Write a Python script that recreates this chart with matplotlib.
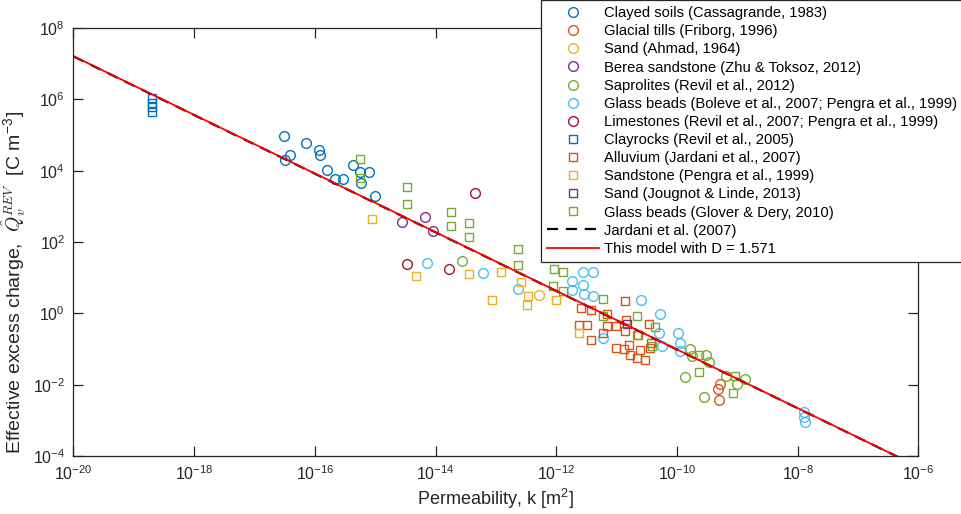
import matplotlib
matplotlib.use("Agg")
import matplotlib.pyplot as plt
import numpy as np

plt.rcParams['font.family'] = ['Liberation Sans', 'DejaVu Sans']
plt.rcParams['mathtext.fontset'] = 'cm'

# ---------------- data (permeability k [m^2], charge Q [C m^-3]) ----------------
clayed_k = [3.1e-17, 7.2e-17, 3.9e-17, 3.2e-17, 1.15e-16, 1.2e-16, 1.6e-16, 2.15e-16,
            2.95e-16, 4.35e-16, 5.5e-16, 8.0e-16, 5.8e-16, 1.0e-15]
clayed_q = [9.5e4, 6.1e4, 2.75e4, 2.0e4, 3.8e4, 2.7e4, 1.05e4, 6.0e3,
            6.0e3, 1.45e4, 9.3e3, 9.0e3, 4.4e3, 1.95e3]

tills_k = [5.1e-10, 4.7e-10, 4.9e-10]
tills_q = [0.0105, 0.0078, 0.0038]

ahmad_k = [5.25e-13]
ahmad_q = [3.3]

berea_k = [2.8e-15, 6.6e-15, 9.0e-15]
berea_q = [370, 490, 210]

sapro_k = [2.75e-14, 1.66e-10, 1.77e-10, 3.0e-10, 3.4e-10, 1.36e-10, 2.8e-10, 6.5e-10, 9.8e-10, 1.32e-9]
sapro_q = [29, 0.097, 0.062, 0.068, 0.042, 0.016, 0.0045, 0.017, 0.0105, 0.014]

boleve_k = [7.3e-15, 6.0e-14, 2.35e-13, 1.8e-12, 2.75e-12, 4.0e-12, 2.75e-12, 1.8e-12,
            2.9e-12, 4.0e-12, 6.0e-12, 2.5e-11, 5.2e-11, 5.1e-11, 5.6e-11, 1.06e-10,
            1.12e-10, 1.12e-10, 1.28e-8, 1.28e-8, 1.3e-8]
boleve_q = [26, 13.8, 4.7, 7.9, 14, 14, 6.4, 4.5,
            3.5, 3.1, 0.21, 2.3, 0.95, 0.29, 0.12, 0.29,
            0.145, 0.089, 0.0017, 0.00126, 0.0009]

lime_k = [4.5e-14, 3.3e-15, 1.7e-14]
lime_q = [2300, 24, 18]

clayrock_k = [2.0e-19, 2.0e-19, 2.0e-19, 2.0e-19]
clayrock_q = [1.07e6, 8.1e5, 6.2e5, 4.5e5]

alluv_k = [1.38e-11, 2.6e-12, 3.8e-12, 6.9e-12, 2.4e-12, 3.2e-12, 6.9e-12, 9.8e-12,
           1.43e-11, 1.38e-11, 3.4e-11, 5.9e-12, 3.8e-12, 9.8e-12, 1.35e-11, 1.63e-11,
           2.4e-11, 1.67e-11, 2.15e-11, 2.9e-11, 3.55e-11, 3.7e-11, 2.3e-11]
alluv_q = [2.25, 1.39, 1.24, 0.96, 0.47, 0.47, 0.43, 0.44,
           0.66, 0.32, 0.50, 0.29, 0.18, 0.107, 0.10, 0.13,
           0.091, 0.068, 0.056, 0.049, 0.107, 0.15, 0.25]

sandstone_k = [8.7e-16, 4.8e-15, 3.6e-14, 1.2e-13, 2.6e-13, 8.5e-14, 3.45e-13, 3.3e-13, 9.8e-13, 2.4e-12]
sandstone_q = [430, 11, 12.7, 14, 7.8, 2.4, 3.1, 1.75, 2.4, 0.28]

jougnot_k = [1.48e-11]
jougnot_q = [0.50]

glover_k = [5.7e-16, 5.7e-16, 3.4e-15, 3.4e-15, 1.8e-14, 1.8e-14, 3.6e-14, 3.6e-14,
            2.35e-13, 2.35e-13, 9.2e-13, 1.3e-12, 8.9e-13, 1.3e-12, 6.0e-12, 6.0e-12,
            2.15e-11, 4.25e-11, 2.2e-11, 3.9e-11, 2.3e-10, 2.3e-10, 9.2e-10, 8.6e-10]
glover_q = [2.1e4, 6.2e3, 3.4e3, 1.2e3, 690, 290, 350, 140,
            62, 23, 18, 14, 5.9, 4.3, 2.6, 0.83,
            0.84, 0.41, 0.24, 0.12, 0.022, 0.068, 0.0175, 0.0057]

# model lines (end points)
jardani_k = [1e-20, 1e-6]
jardani_q = [1.596e7, 4.97e-5]
model_k = [1e-20, 1e-6]
model_q = [1.62e7, 5.0e-5]

x_ticks = [1e-20, 1e-18, 1e-16, 1e-14, 1e-12, 1e-10, 1e-8, 1e-6]
y_ticks = [1e-4, 1e-2, 1e0, 1e2, 1e4, 1e6, 1e8]

# ---------------- styling ----------------
C_BLUE = '#0072BD'
C_ORANGE = '#D95319'
C_YELLOW = '#EDB120'
C_PURPLE = '#7E2F8E'
C_GREEN = '#77AC30'
C_CYAN = '#4DBEEE'
C_RED = '#A2142F'

fig = plt.figure(figsize=(9.62, 5.14), dpi=100)
ax = fig.add_axes([0.0764, 0.1128, 0.9546 - 0.0764, 0.9455 - 0.1128])

circ = dict(marker='o', linestyle='none', markersize=7.0, markerfacecolor='none', markeredgewidth=1.0)
sq = dict(marker='s', linestyle='none', markersize=6.0, markerfacecolor='none', markeredgewidth=1.0)

series = [
    (clayed_k, clayed_q, circ, C_BLUE, 'Clayed soils (Cassagrande, 1983)'),
    (tills_k, tills_q, circ, C_ORANGE, 'Glacial tills (Friborg, 1996)'),
    (ahmad_k, ahmad_q, circ, C_YELLOW, 'Sand (Ahmad, 1964)'),
    (berea_k, berea_q, circ, C_PURPLE, 'Berea sandstone (Zhu & Toksoz, 2012)'),
    (sapro_k, sapro_q, circ, C_GREEN, 'Saprolites (Revil et al., 2012)'),
    (boleve_k, boleve_q, circ, C_CYAN, 'Glass beads (Boleve et al., 2007; Pengra et al., 1999)'),
    (lime_k, lime_q, circ, C_RED, 'Limestones (Revil et al., 2007; Pengra et al., 1999)'),
    (clayrock_k, clayrock_q, sq, C_BLUE, 'Clayrocks (Revil et al., 2005)'),
    (alluv_k, alluv_q, sq, C_ORANGE, 'Alluvium (Jardani et al., 2007)'),
    (sandstone_k, sandstone_q, sq, C_YELLOW, 'Sandstone (Pengra et al., 1999)'),
    (jougnot_k, jougnot_q, sq, C_PURPLE, 'Sand (Jougnot & Linde, 2013)'),
    (glover_k, glover_q, sq, C_GREEN, 'Glass beads (Glover & Dery, 2010)'),
]

handles = []
for k, q, st, col, lab in series:
    h, = ax.plot(k, q, color=col, markeredgecolor=col, label=lab, **st)
    handles.append(h)

h1, = ax.plot(jardani_k, jardani_q, color='black', linestyle=(0, (5, 3.5)), linewidth=1.6,
              label='Jardani et al. (2007)')
h2, = ax.plot(model_k, model_q, color='#FF0000', linestyle='-', linewidth=1.3,
              label='This model with D = 1.571')
handles += [h1, h2]

ax.set_xscale('log')
ax.set_yscale('log')
ax.set_xlim(1e-20, 1e-6)
ax.set_ylim(1e-4, 1e8)
ax.set_xticks(x_ticks)
ax.set_yticks(y_ticks)
ax.minorticks_off()

spine_col = '#262626'
for s in ax.spines.values():
    s.set_color(spine_col)
    s.set_linewidth(0.9)
ax.tick_params(which='major', direction='in', length=7, width=0.9, top=True, right=True,
               colors=spine_col, labelsize=11.5, pad=6)

ax.set_xlabel('Permeability, k [m$^{\\mathdefault{2}}$]', fontsize=13, color=spine_col, labelpad=3)
ax.set_ylabel('Effective excess charge,  $\\hat{Q}_v^{REV}$  [C m$^{\\mathdefault{-3}}$]',
              fontsize=14, color=spine_col)
ax.yaxis.set_label_coords(-0.0535, 0.407)

leg = fig.legend(handles=handles, loc='upper left', bbox_to_anchor=(541 / 962, 1.0),
                 bbox_transform=fig.transFigure, borderaxespad=0.0,
                 fontsize=10.6, frameon=True, fancybox=False, framealpha=1.0,
                 edgecolor=spine_col, handlelength=3.5, handletextpad=0.35,
                 labelspacing=0.28, borderpad=0.42, numpoints=1)
leg.get_frame().set_linewidth(0.9)

fig.savefig('out.png', dpi=100)
